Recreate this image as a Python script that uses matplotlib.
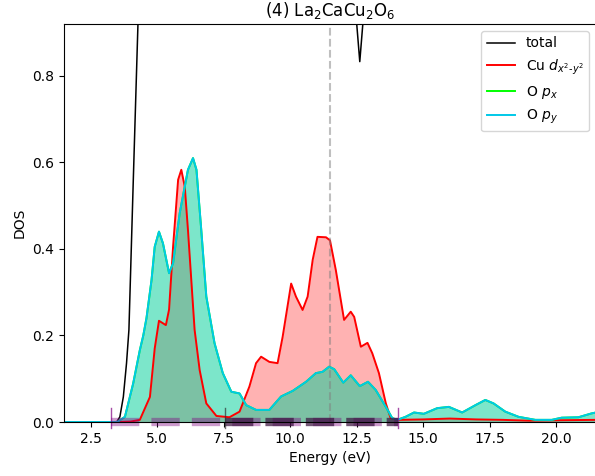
import numpy as np
import matplotlib.pyplot as plt

# energies (eV) and DOS
e_total = [1.5, 3.3, 3.48, 3.60, 3.73, 3.85, 3.94, 4.10, 4.28, 4.5, 5.0, 6.0, 9.0,
           12.0, 12.40, 12.62, 12.84, 13.2, 16.0, 21.5]
dos_total = [0.0, 0.0, 0.0, 0.012, 0.058, 0.136, 0.213, 0.55, 0.92, 1.5, 3.0, 3.5, 3.0,
             1.6, 1.0, 0.833, 1.0, 1.6, 2.0, 2.0]

e_cu = [1.5, 3.5, 4.0, 4.35, 4.73, 4.91, 5.07, 5.33, 5.45, 5.60, 5.79, 5.91, 6.04,
        6.16, 6.41, 6.60, 6.85, 7.23, 7.72, 8.10, 8.47, 8.72, 8.91, 9.22, 9.53,
        9.72, 10.04, 10.22, 10.47, 10.66, 10.85, 11.03, 11.35, 11.50, 11.72,
        12.03, 12.28, 12.41, 12.66, 12.91, 13.09, 13.34, 13.60, 13.78, 14.09,
        15.0, 16.0, 17.0, 18.0, 19.0, 20.0, 21.5]
dos_cu = [0.0, 0.0, 0.001, 0.005, 0.058, 0.17, 0.234, 0.224, 0.26, 0.405, 0.56, 0.583,
          0.544, 0.444, 0.213, 0.12, 0.043, 0.014, 0.011, 0.024, 0.082, 0.136,
          0.151, 0.139, 0.136, 0.197, 0.32, 0.29, 0.259, 0.29, 0.375, 0.428,
          0.427, 0.42, 0.351, 0.236, 0.255, 0.243, 0.174, 0.183, 0.159, 0.113,
          0.043, 0.009, 0.005, 0.006, 0.008, 0.006, 0.005, 0.003, 0.004, 0.005]

e_o = [1.5, 3.5, 3.79, 4.10, 4.35, 4.48, 4.60, 4.79, 4.91, 5.07, 5.22, 5.45, 5.60,
       5.85, 6.16, 6.35, 6.48, 6.66, 6.85, 7.16, 7.47, 7.79, 8.10, 8.35, 8.72,
       9.22, 9.66, 10.10, 10.60, 10.97, 11.22, 11.47, 11.66, 12.00, 12.28, 12.62,
       12.93, 13.22, 13.60, 13.84, 14.03, 14.34, 14.66, 15.03, 15.53, 15.97,
       16.47, 16.97, 17.34, 17.65, 18.09, 18.59, 19.22, 19.84, 20.21, 20.84,
       21.34, 21.5]
dos_opx = [0.0, 0.0, 0.012, 0.089, 0.166, 0.2, 0.24, 0.328, 0.405, 0.44, 0.413,
           0.344, 0.367, 0.483, 0.583, 0.61, 0.583, 0.444, 0.29, 0.182, 0.113,
           0.07, 0.066, 0.039, 0.028, 0.028, 0.059, 0.072, 0.093, 0.113, 0.116,
           0.128, 0.122, 0.091, 0.108, 0.083, 0.093, 0.074, 0.035, 0.009, 0.005,
           0.012, 0.022, 0.019, 0.032, 0.035, 0.022, 0.039, 0.051, 0.043, 0.024,
           0.012, 0.005, 0.005, 0.01, 0.011, 0.02, 0.022]
dos_opy = [0.0, 0.0, 0.012, 0.089, 0.166, 0.2, 0.24, 0.328, 0.405, 0.44, 0.413,
           0.344, 0.367, 0.483, 0.583, 0.61, 0.583, 0.444, 0.29, 0.182, 0.113,
           0.07, 0.066, 0.039, 0.028, 0.028, 0.059, 0.072, 0.093, 0.113, 0.116,
           0.128, 0.122, 0.091, 0.108, 0.083, 0.093, 0.074, 0.035, 0.009, 0.005,
           0.012, 0.022, 0.019, 0.032, 0.035, 0.022, 0.039, 0.051, 0.043, 0.024,
           0.012, 0.005, 0.005, 0.01, 0.011, 0.02, 0.022]

e_fermi = 11.5
window = [3.25, 14.06]   # energy window markers
e_split = 7.54

fig = plt.figure(figsize=(5.95, 4.76), dpi=100)
ax = fig.add_axes([0.1076, 0.1134, 0.894, 0.8362])

# fills first, lines on top
ax.fill_between(e_cu, dos_cu, color='red', alpha=0.3, lw=0)
ax.fill_between(e_o, dos_opx, color='#00d080', alpha=0.3, lw=0)
ax.fill_between(e_o, dos_opy, color='#00d2aa', alpha=0.3, lw=0)

ax.plot(e_total, dos_total, color='black', lw=1.1, label='total')
ax.plot(e_cu, dos_cu, color='red', lw=1.4, label=r'Cu $d_{x^2\text{-}y^2}$')
ax.plot(e_o, dos_opx, color='#00ff00', lw=1.4, label=r'O $p_x$')
ax.plot(e_o, dos_opy, color='#00c8e8', lw=1.4, label=r'O $p_y$')

ax.axvline(e_fermi, color='gray', ls='--', lw=1.5, alpha=0.5)

# window bars along the axis
ax.plot(window, [0, 0], color='purple', alpha=0.4, lw=6, ls=(0, (3.4, 1.45)),
        solid_capstyle='butt', clip_on=False)
ax.plot([e_split, window[1]], [0, 0], color='#3a103e', alpha=0.7, lw=6,
        ls=(0, (3.4, 1.45)), solid_capstyle='butt', clip_on=False)
for xv, c in [(window[0], 'purple'), (window[1], 'purple'), (e_split, '#333333')]:
    ax.plot([xv, xv], [-0.014, 0.032], color=c, lw=1.0, alpha=0.7, clip_on=False)

ax.set_xlim(1.5, 21.5)
ax.set_ylim(0, 0.92)
ax.set_xticks([2.5, 5.0, 7.5, 10.0, 12.5, 15.0, 17.5, 20.0])
ax.set_yticks([0.0, 0.2, 0.4, 0.6, 0.8])
ax.set_xlabel('Energy (eV)')
ax.set_ylabel('DOS')
ax.set_title(r'(4) La$_2$CaCu$_2$O$_6$')
ax.legend(loc='upper right')

fig.savefig('out.png', dpi=100)
